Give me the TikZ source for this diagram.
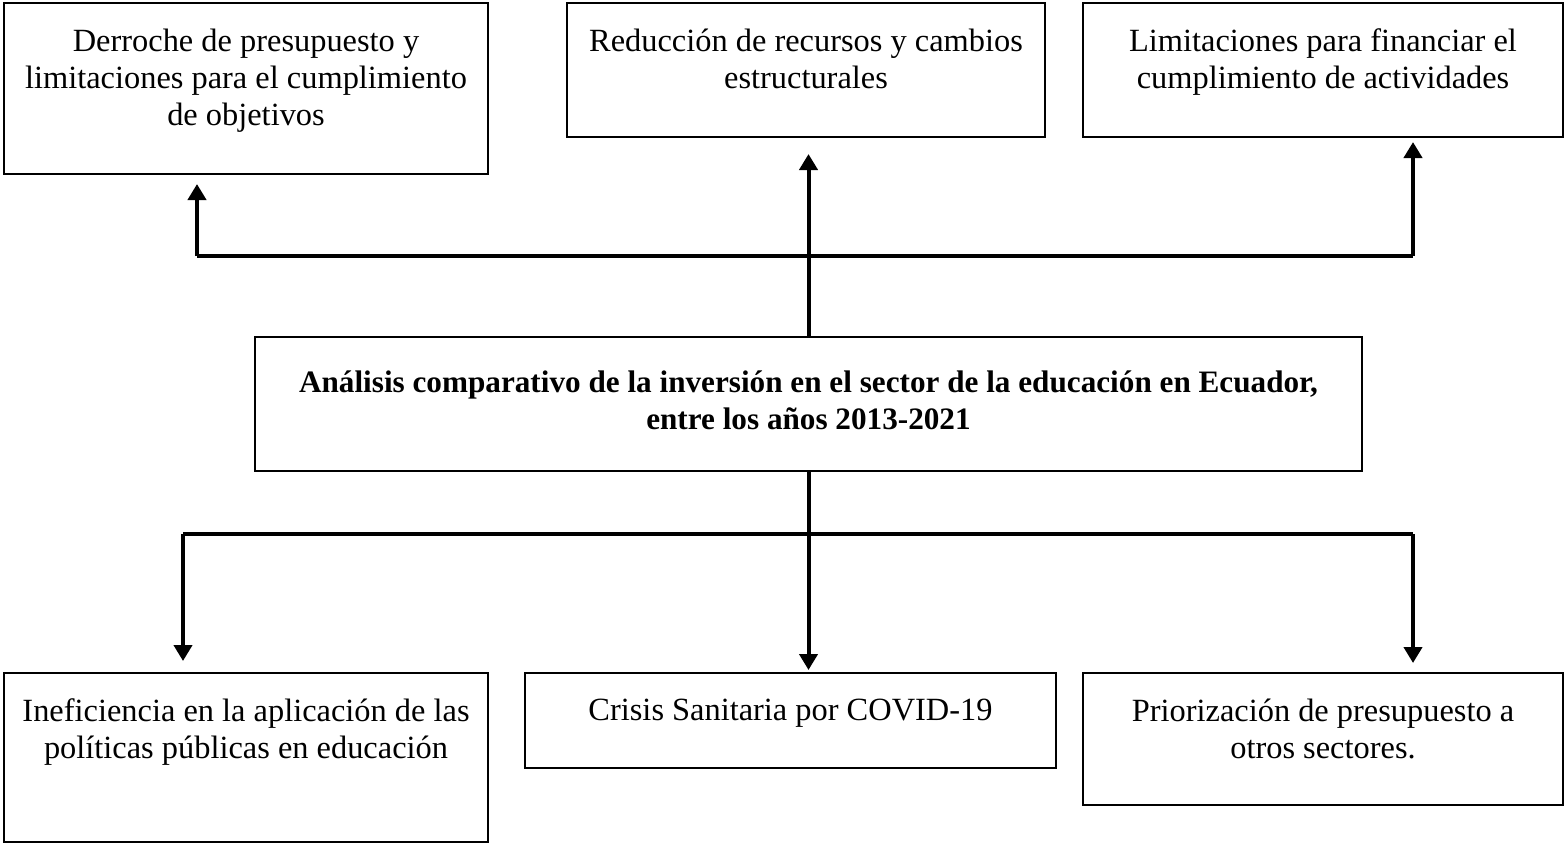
\documentclass[tikz,border=0pt]{standalone}
\usepackage{fontspec}
\setmainfont{Liberation Serif}
\usepackage{tikz}
\usetikzlibrary{arrows.meta}
\newcommand{\boxtext}[3]{\parbox[t][#2][t]{#1}{\centering\vspace*{13pt}#3\par}}
\tikzset{
    flat-box/.style = {draw=black, line width=1pt, rectangle, inner sep=0pt, anchor=north west, font=\fontsize{16.2}{18.5}\selectfont},
    link-line/.style = {draw=black, line width=2pt},
    link-arrow/.style = {link-line, -{Triangle[width=9pt,length=8pt]}},
}

\begin{document}
\begin{tikzpicture}[x=0.5pt,y=-0.5pt]
\useasboundingbox (0,0) rectangle (1566,843);
\node [flat-box] (waste) at (3,2) {\boxtext{242pt}{85.5pt}{Derroche de presupuesto y\\ limitaciones para el cumplimiento\\ de objetivos}};
\node [flat-box] (reduce) at (566,2) {\boxtext{239pt}{67pt}{Reducción de recursos y cambios\\ estructurales}};
\node [flat-box] (funds) at (1082,2) {\boxtext{240pt}{67pt}{Limitaciones para financiar el\\ cumplimiento de actividades}};
\node [flat-box] (main) at (254,336) {\boxtext{553.5pt}{67pt}{\fontsize{15.6}{18.5}\selectfont\bfseries\vspace*{4pt}Análisis comparativo de la inversión en el sector de la educación en Ecuador,\\ entre los años 2013-2021}};
\node [flat-box] (policy) at (3,672) {\boxtext{242pt}{84.5pt}{Ineficiencia en la aplicación de las\\ políticas públicas en educación}};
\node [flat-box] (covid) at (524,672) {\boxtext{265.5pt}{47.5pt}{Crisis Sanitaria por COVID-19}};
\node [flat-box] (sectors) at (1082,672) {\boxtext{240pt}{66pt}{Priorización de presupuesto a\\ otros sectores.}};

\coordinate (top-left) at (197,256);
\coordinate (top-right) at (1413,256);
\coordinate (low-left) at (183,534);
\coordinate (low-right) at (1413,534);

\draw [link-line] (top-left) -- (top-right);
\draw [link-arrow, shorten >=8pt] (main.north) -- (main.north |- reduce.south);
\draw [link-arrow, shorten >=4.5pt] (top-left) -- (top-left |- waste.south);
\draw [link-arrow, shorten >=2pt] (top-right) -- (top-right |- funds.south);

\draw [link-line] (low-left) -- (low-right);
\draw [link-arrow, shorten >=1pt] (main.south) -- (main.south |- covid.north);
\draw [link-arrow, shorten >=5.5pt] (low-left) -- (low-left |- policy.north);
\draw [link-arrow, shorten >=4.5pt] (low-right) -- (low-right |- sectors.north);
\end{tikzpicture}
\end{document}
